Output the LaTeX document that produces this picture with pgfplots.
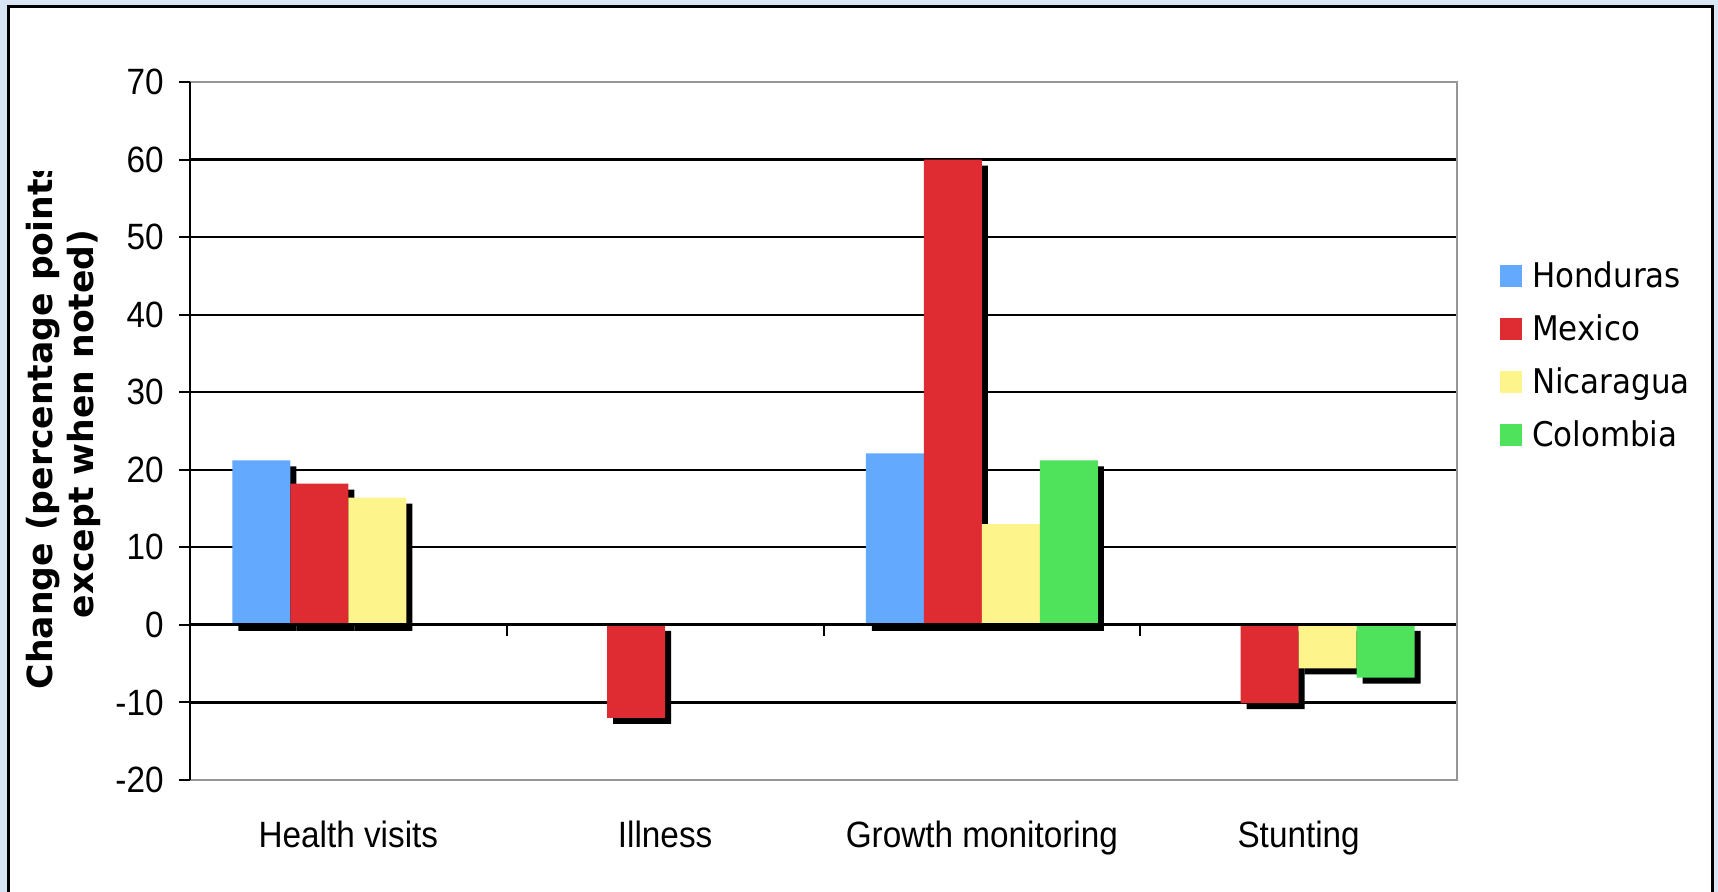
\documentclass[border=0pt]{standalone}
\usepackage{fontspec}
\setmainfont{Liberation Sans}
\newfontfamily\tickfont{Liberation Sans}[FakeStretch=0.91]
\newfontfamily\legfont{DejaVu Sans}[FakeStretch=0.91]
\newfontfamily\labfont{DejaVu Sans}
\usepackage{pgfplots}
\pgfplotsset{compat=1.18}
\definecolor{bgblue}{RGB}{216,229,244}
\definecolor{hon}{RGB}{99,169,253}
\definecolor{mex}{RGB}{223,44,51}
\definecolor{nic}{RGB}{254,244,140}
\definecolor{col}{RGB}{78,227,90}
\definecolor{bordergray}{RGB}{150,150,150}
\pgfplotsset{
  sq/.style={legend image code/.code={\path[fill=#1, draw=none] (0pt,-6pt) rectangle (11pt,5pt);}},
  shadowed/.style={preaction={fill=black, draw=none, transform canvas={xshift=3pt,yshift=-3pt}}},
}
\begin{document}
\begin{tikzpicture}[x=1pt,y=1pt]
\path[use as bounding box] (0,0) rectangle (859,446);
\fill[bgblue] (0,0) rectangle (859,446);
\draw[line width=1.5pt, fill=white] (4.25,-5) rectangle (856.25,442.75);
\begin{scope}
\clip (0,0) rectangle (859,360);
\node[rotate=90, anchor=base, inner sep=0pt, font=\labfont\bfseries\fontsize{17.3}{20}\selectfont] at (26,234) {Change (percentage points};
\end{scope}
\node[rotate=90, anchor=base, inner sep=0pt, font=\labfont\bfseries\fontsize{17.3}{20}\selectfont] at (46.5,234) {except when noted)};
\begin{axis}[
  at={(95pt,56pt)}, anchor=south west,
  scale only axis, width=633.5pt, height=349pt,
  xmin=-0.5, xmax=3.5, ymin=-20, ymax=70,
  clip=false,
  axis line style={draw=none},
  xtick={0,1,2,3},
  xticklabels={Health visits, Illness, Growth monitoring, Stunting},
  x tick style={draw=none},
  ytick={-20,-10,0,10,20,30,40,50,60,70},
  yticklabels={-20,-10,0,10,20,30,40,50,60,70},
  ytick pos=left, tick align=outside, major tick length=5.5pt,
  y tick style={black, line width=1pt},
  ymajorgrids, grid style={black, line width=1.1pt},
  ticklabel style={font=\tickfont\fontsize{18.3}{20}\selectfont},
  yticklabel style={anchor=east, inner sep=0pt, xshift=-7.5pt},
  xticklabel style={anchor=base, inner sep=0pt, yshift=-28.5pt},
  legend style={at={(1.03394,0.7407)}, anchor=north west, draw=none, fill=none,
    inner sep=0pt, outer sep=0pt, row sep=14pt, column sep=5pt,
    font=\legfont\fontsize{17}{20}\selectfont,
    nodes={inner sep=0pt, text height=12.5pt, text depth=0pt}},
  legend cell align=left,
]
\addplot[ybar, forget plot, bar width=29pt, bar shift=-43.5pt, fill=hon, draw=none, shadowed]
  coordinates {(0,21.2) (2,22.1)};
\addplot[ybar, forget plot, bar width=29pt, bar shift=-14.5pt, fill=mex, draw=none, shadowed]
  coordinates {(0,18.2) (1,-12.0) (2,60.0) (3,-10.1)};
\addplot[ybar, forget plot, bar width=29pt, bar shift=14.5pt, fill=nic, draw=none, shadowed]
  coordinates {(0,16.4) (2,13.0) (3,-5.6)};
\addplot[ybar, forget plot, bar width=29pt, bar shift=43.5pt, fill=col, draw=none, shadowed]
  coordinates {(2,21.2) (3,-6.8)};
\addlegendimage{sq=hon}\addlegendentry{Honduras}
\addlegendimage{sq=mex}\addlegendentry{Mexico}
\addlegendimage{sq=nic}\addlegendentry{Nicaragua}
\addlegendimage{sq=col}\addlegendentry{Colombia}
\draw[black, line width=1.4pt] (axis cs:-0.5,0) -- (axis cs:3.5,0);
\draw[black, line width=1pt] (axis cs:0.5,0) -- ([yshift=-5.5pt]axis cs:0.5,0);
\draw[black, line width=1pt] (axis cs:1.5,0) -- ([yshift=-5.5pt]axis cs:1.5,0);
\draw[black, line width=1pt] (axis cs:2.5,0) -- ([yshift=-5.5pt]axis cs:2.5,0);
\draw[black, line width=1pt] (axis cs:3.5,0) -- ([yshift=-5.5pt]axis cs:3.5,0);
\draw[bordergray, line width=1pt] (rel axis cs:0,0) -- (rel axis cs:1,0) -- (rel axis cs:1,1) -- (rel axis cs:0,1);
\draw[black, line width=1pt] (rel axis cs:0,0) -- (rel axis cs:0,1);
\end{axis}
\end{tikzpicture}
\end{document}
